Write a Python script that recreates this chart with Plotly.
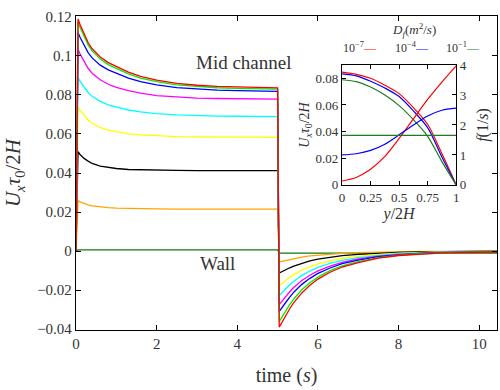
import plotly.graph_objects as go

# ---------------- main panel: velocity history -----------------
time_s = [0, 0.05, 0.1, 0.2, 0.3, 0.4, 0.6, 0.8, 1.0, 1.3, 1.6, 2.0, 2.5, 3.0, 3.5, 4.0, 4.5, 5.0,
          5.04, 5.1, 5.2, 5.3, 5.4, 5.6, 5.8, 6.0, 6.3, 6.6, 7.0, 7.5, 8.0, 8.5, 9.0, 9.5, 10.0, 10.5]

u_red = [0, 0.1190, 0.1162, 0.1112, 0.1069, 0.1037, 0.0995, 0.0966, 0.0945, 0.0917, 0.0895, 0.0876,
         0.0860, 0.0850, 0.0844, 0.0841, 0.0839, 0.0837,
         -0.0390, -0.0367, -0.0332, -0.0296, -0.0265, -0.0215, -0.0176, -0.0144, -0.0109, -0.0082,
         -0.0059, -0.0037, -0.0023, -0.0016, -0.0011, -0.0008, -0.0006, -0.0005]
u_green = [0, 0.1175, 0.1147, 0.1099, 0.1057, 0.1026, 0.0984, 0.0956, 0.0936, 0.0908, 0.0887, 0.0868,
           0.0852, 0.0843, 0.0837, 0.0834, 0.0831, 0.0830,
           -0.0362, -0.0340, -0.0308, -0.0275, -0.0246, -0.0199, -0.0163, -0.0134, -0.0101, -0.0076,
           -0.0054, -0.0034, -0.0022, -0.0014, -0.0010, -0.0007, -0.0005, -0.0004]
u_blue = [0, 0.1120, 0.1096, 0.1053, 0.1017, 0.0990, 0.0953, 0.0929, 0.0911, 0.0887, 0.0869, 0.0852,
          0.0838, 0.0830, 0.0825, 0.0822, 0.0820, 0.0819,
          -0.0310, -0.0291, -0.0264, -0.0236, -0.0211, -0.0171, -0.0140, -0.0115, -0.0087, -0.0065,
          -0.0047, -0.0029, -0.0019, -0.0012, -0.0008, -0.0006, -0.0005, -0.0004]
u_magenta = [0, 0.1034, 0.1011, 0.0970, 0.0937, 0.0911, 0.0878, 0.0855, 0.0839, 0.0822, 0.0809, 0.0797,
             0.0789, 0.0784, 0.0782, 0.0780, 0.0779, 0.0779,
             -0.0275, -0.0259, -0.0234, -0.0209, -0.0187, -0.0151, -0.0124, -0.0102, -0.0077, -0.0058,
             -0.0041, -0.0026, -0.0017, -0.0011, -0.0007, -0.0006, -0.0004, -0.0003]
u_cyan = [0, 0.0889, 0.0871, 0.0839, 0.0813, 0.0793, 0.0767, 0.0749, 0.0737, 0.0723, 0.0713, 0.0704,
          0.0698, 0.0694, 0.0692, 0.0691, 0.0690, 0.0689,
          -0.0228, -0.0214, -0.0194, -0.0173, -0.0155, -0.0125, -0.0103, -0.0084, -0.0064, -0.0048,
          -0.0034, -0.0022, -0.0014, -0.0009, -0.0006, -0.0005, -0.0003, -0.0003]
u_yellow = [0, 0.0737, 0.0722, 0.0694, 0.0672, 0.0655, 0.0634, 0.0620, 0.0611, 0.0601, 0.0595, 0.0590,
            0.0587, 0.0585, 0.0584, 0.0584, 0.0583, 0.0583,
            -0.0178, -0.0167, -0.0151, -0.0135, -0.0121, -0.0098, -0.0080, -0.0066, -0.0050, -0.0037,
            -0.0027, -0.0017, -0.0011, -0.0007, -0.0005, -0.0004, -0.0003, -0.0002]
u_black = [0, 0.0509, 0.0495, 0.0475, 0.0461, 0.0449, 0.0435, 0.0428, 0.0423, 0.0418, 0.0416, 0.0414,
           0.0413, 0.0412, 0.0412, 0.0412, 0.0412, 0.0412,
           -0.0113, -0.0106, -0.0096, -0.0086, -0.0077, -0.0062, -0.0051, -0.0042, -0.0032, -0.0024,
           -0.0017, -0.0011, -0.0007, -0.0005, -0.0003, -0.0002, -0.0002, -0.0001]
u_orange = [0, 0.0258, 0.0252, 0.0243, 0.0237, 0.0231, 0.0225, 0.0222, 0.0220, 0.0218, 0.0217, 0.0216,
            0.0215, 0.0215, 0.0215, 0.0215, 0.0215, 0.0215,
            -0.0056, -0.0053, -0.0048, -0.0043, -0.0038, -0.0031, -0.0025, -0.0021, -0.0016, -0.0012,
            -0.0008, -0.0005, -0.0003, -0.0002, -0.0002, -0.0001, -0.0001, -0.0001]
u_wall = [0, 0.0006, 0.0006, 0.0006, 0.0006, 0.0006, 0.0006, 0.0006, 0.0006, 0.0006, 0.0006, 0.0006,
          0.0006, 0.0006, 0.0006, 0.0006, 0.0006, 0.0006,
          -0.0011, -0.0011, -0.0011, -0.0011, -0.0011, -0.0011, -0.0011, -0.0011, -0.0011, -0.0011,
          -0.0011, -0.0011, -0.0011, -0.0011, -0.0011, -0.0011, -0.0011, -0.0011]

main_series = [
    ("wall", u_wall, "#117a11"),
    ("orange", u_orange, "#ffa500"),
    ("black", u_black, "#000000"),
    ("yellow", u_yellow, "#ffff00"),
    ("cyan", u_cyan, "#00ffff"),
    ("magenta", u_magenta, "#ff00ff"),
    ("blue", u_blue, "#0000ff"),
    ("green", u_green, "#00ee00"),
    ("red", u_red, "#ff0000"),
]

main_yticks = [-0.04, -0.02, 0, 0.02, 0.04, 0.06, 0.08, 0.1, 0.12]
main_yticklabels = ["\u22120.04", "\u22120.02", "0", "0.02", "0.04", "0.06", "0.08", "0.1", "0.12"]
main_xticks = [0, 2, 4, 6, 8, 10]

# ---------------- inset: cross-channel profiles -----------------
y_frac = [0, 0.125, 0.25, 0.375, 0.5, 0.625, 0.75, 0.875, 1.0]
vel_1e7 = [0.0846, 0.0830, 0.0800, 0.0748, 0.0685, 0.0580, 0.0455, 0.0235, 0.0]
vel_1e4 = [0.0834, 0.0818, 0.0778, 0.0727, 0.0663, 0.0555, 0.0430, 0.0210, 0.0]
vel_1e1 = [0.0789, 0.0775, 0.0735, 0.0675, 0.0595, 0.0490, 0.0365, 0.0175, 0.0]
freq_1e7 = [0.13, 0.25, 0.52, 0.95, 1.55, 2.20, 2.85, 3.43, 3.97]
freq_1e4 = [1.00, 1.04, 1.15, 1.36, 1.67, 2.00, 2.30, 2.49, 2.56]
freq_1e1 = [1.65, 1.65, 1.65, 1.65, 1.65, 1.65, 1.65, 1.65, 1.65]
diffusivity_labels = ["10<sup>\u22127</sup>", "10<sup>\u22124</sup>", "10<sup>\u22121</sup>"]
inset_colors = ["#ff0000", "#0000ff", "#1f7a1f"]

SERIF = "Liberation Serif"
TXT = "#333333"

fig = go.Figure()

for name, vals, col in main_series:
    fig.add_trace(go.Scatter(x=time_s, y=vals, mode="lines", name=name,
                             line=dict(color=col, width=1.3), xaxis="x", yaxis="y",
                             showlegend=False))

for vel, freq, col, lab in zip([vel_1e7, vel_1e4, vel_1e1], [freq_1e7, freq_1e4, freq_1e1],
                               inset_colors, diffusivity_labels):
    fig.add_trace(go.Scatter(x=y_frac, y=vel, mode="lines", name=lab, showlegend=False,
                             line=dict(color=col, width=1.2, shape="spline", smoothing=0.8),
                             xaxis="x2", yaxis="y2"))
    fig.add_trace(go.Scatter(x=y_frac, y=freq, mode="lines", name=lab, showlegend=False,
                             line=dict(color=col, width=1.2, shape="spline", smoothing=0.8),
                             xaxis="x2", yaxis="y3"))

axis_common = dict(showline=True, linecolor="black", linewidth=1.3, ticks="inside",
                   tickcolor="black", showgrid=False, zeroline=False,
                   tickfont=dict(family=SERIF, size=15, color=TXT))

inset_common = dict(showline=True, linecolor="black", linewidth=1.2, ticks="inside",
                    tickcolor="black", ticklen=4, showgrid=False, zeroline=False,
                    tickfont=dict(family=SERIF, size=13, color=TXT))

fig.update_layout(
    width=500, height=390,
    margin=dict(l=76, r=0, t=16, b=60),
    paper_bgcolor="white", plot_bgcolor="white",
    showlegend=False,
    xaxis=dict(**axis_common, range=[0, 10.44], tickvals=main_xticks, ticklen=5, mirror="ticks",
               title=dict(text="time (<i>s</i>)", font=dict(family=SERIF, size=20, color=TXT),
                          standoff=16)),
    yaxis=dict(**axis_common, range=[-0.0405, 0.1205], tickvals=main_yticks,
               ticktext=main_yticklabels, ticklen=5, mirror="ticks",
               title=dict(text="<i>U<sub>x</sub>\u03c4</i><sub>0</sub>/2<i>H</i>",
                          font=dict(family=SERIF, size=21, color=TXT), standoff=10)),
    xaxis2=dict(**inset_common, domain=[0.632, 0.903], anchor="y2", range=[0, 1],
                tickvals=[0, 0.25, 0.5, 0.75, 1], ticktext=["0", "0.25", "0.5", "0.75", "1"],
                mirror="ticks",
                title=dict(text="<i>y</i>/2<i>H</i>", font=dict(family=SERIF, size=16, color=TXT),
                           standoff=2)),
    yaxis2=dict(**inset_common, domain=[0.462, 0.844], anchor="x2", range=[0, 0.09],
                tickvals=[0, 0.02, 0.04, 0.06, 0.08], ticktext=["0", "0.02", "0.04", "0.06", "0.08"],
                title=dict(text="<i>U<sub>x</sub>\u03c4</i><sub>0</sub>/2<i>H</i>",
                           font=dict(family=SERIF, size=14, color=TXT), standoff=2)),
    yaxis3=dict(**inset_common, overlaying="y2", anchor="x2", side="right", range=[0, 4],
                tickvals=[0, 1, 2, 3, 4],
                title=dict(text="<i>f</i>(1/<i>s</i>)", font=dict(family=SERIF, size=16, color=TXT),
                           standoff=10)),
)

# text labels on the main panel
fig.add_annotation(x=4.16, y=0.0969, xref="x", yref="y", text="Mid channel", showarrow=False,
                   font=dict(family=SERIF, size=19, color=TXT))
fig.add_annotation(x=3.5, y=-0.0062, xref="x", yref="y", text="Wall", showarrow=False,
                   font=dict(family=SERIF, size=19, color=TXT))

# key for the inset, placed above it
fig.add_annotation(x=(416 - 76) / 424, y=(330 - 30) / 314, xref="paper", yref="paper",
                   xanchor="center", yanchor="middle",
                   text="<i>D<sub>f</sub></i>(<i>m</i><sup>2</sup>/<i>s</i>)", showarrow=False,
                   font=dict(family=SERIF, size=13, color=TXT))
for px, lab, col in zip([362, 414, 466], diffusivity_labels, inset_colors):
    fig.add_annotation(x=(px - 76) / 424, y=(330 - 48) / 314, xref="paper", yref="paper",
                       xanchor="center", yanchor="middle",
                       text=f"{lab}<span style='color:{col}'>\u2014</span>", showarrow=False,
                       font=dict(family=SERIF, size=12, color=TXT))

fig.write_html("out.html")
